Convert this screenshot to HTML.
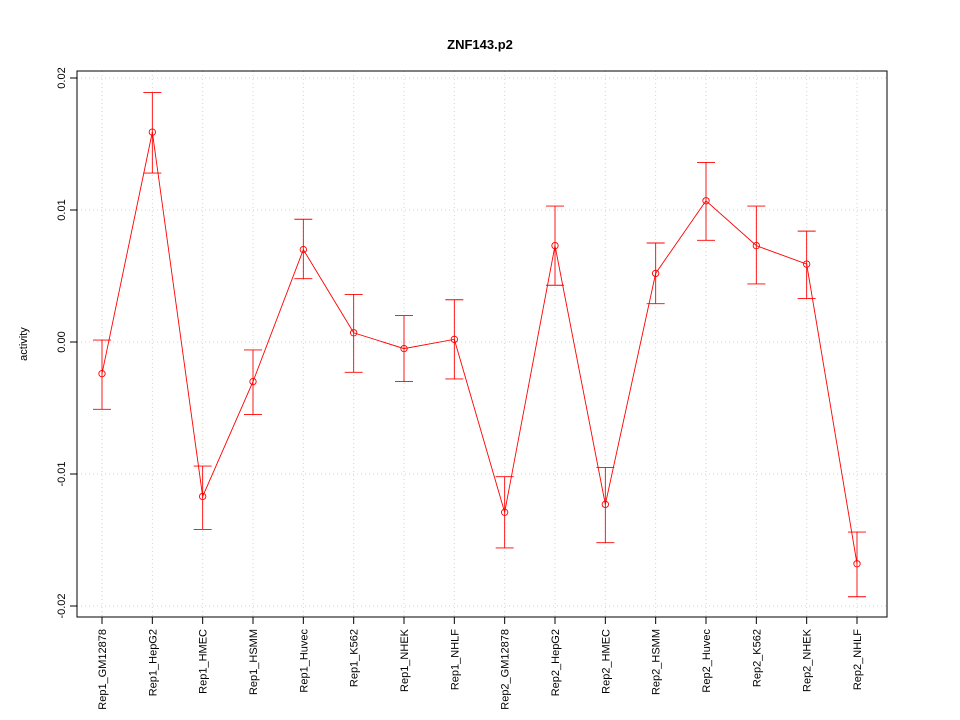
<!DOCTYPE html>
<html><head><meta charset="utf-8"><style>body{margin:0;background:#fff}svg{display:block;font-family:"Liberation Sans",sans-serif}</style></head>
<body>
<svg id="chart" width="960" height="720"></svg>
<script>
const categories=["Rep1_GM12878","Rep1_HepG2","Rep1_HMEC","Rep1_HSMM","Rep1_Huvec","Rep1_K562","Rep1_NHEK","Rep1_NHLF","Rep2_GM12878","Rep2_HepG2","Rep2_HMEC","Rep2_HSMM","Rep2_Huvec","Rep2_K562","Rep2_NHEK","Rep2_NHLF"];
const values=[-0.0024,0.0159,-0.0117,-0.003,0.007,0.0007,-0.0005,0.0002,-0.0129,0.0073,-0.0123,0.0052,0.0107,0.0073,0.0059,-0.0168];
const upper=[0.00015,0.0189,-0.0094,-0.0006,0.0093,0.0036,0.002,0.0032,-0.0102,0.0103,-0.0095,0.0075,0.0136,0.0103,0.0084,-0.0144];
const lower=[-0.0051,0.0128,-0.0142,-0.0055,0.0048,-0.0023,-0.0030,-0.0028,-0.0156,0.0043,-0.0152,0.0029,0.0077,0.0044,0.0033,-0.0193];
const yTicks=[-0.02,-0.01,0,0.01,0.02];
const yTickLabels=["-0.02","-0.01","0.00","0.01","0.02"];
const NS="http://www.w3.org/2000/svg",svg=document.getElementById("chart");
const L=77,R=887,T=71,B=617;
const x=i=>102+i*(857-102)/(categories.length-1);
const y=v=>342-v*13200;
function mk(t,a,p){const e=document.createElementNS(NS,t);for(const k in a)e.setAttribute(k,a[k]);(p||svg).appendChild(e);return e;}
let t=mk("text",{x:480,y:49,"text-anchor":"middle","font-size":13,"font-weight":"bold"});t.textContent="ZNF143.p2";


t=mk("text",{x:27,y:344,"text-anchor":"middle","font-size":11,transform:"rotate(-90 27 344)"});t.textContent="activity";


yTicks.forEach((v,i)=>{
 const g=mk("line",{x1:L,x2:R,y1:y(v),y2:y(v),stroke:"#d3d3d3","stroke-dasharray":"1,3"});
 
 
 mk("line",{x1:L-7,x2:L,y1:y(v),y2:y(v),stroke:"#000"});
 const tx=mk("text",{x:L-12,y:y(v),"text-anchor":"middle","font-size":11,transform:`rotate(-90 ${L-12} ${y(v)})`});tx.textContent=yTickLabels[i];
 
 
});
categories.forEach((c,i)=>{
 const g=mk("line",{x1:x(i),x2:x(i),y1:T,y2:B,stroke:"#d3d3d3","stroke-dasharray":"1,3"});
 
 
 mk("line",{x1:x(i),x2:x(i),y1:B,y2:B+7,stroke:"#000"});
 const tx=mk("text",{x:x(i)+4,y:B+12,"text-anchor":"end","font-size":11,transform:`rotate(-90 ${x(i)+4} ${B+12})`});tx.textContent=c;
 
 
});
const fr=mk("rect",{x:L,y:T,width:R-L,height:B-T,fill:"none",stroke:"#000"});


const pl=mk("polyline",{points:values.map((v,i)=>x(i)+","+y(v)).join(" "),fill:"none",stroke:"#f00","stroke-width":0.9});


values.forEach((v,i)=>{
 const g=mk("g",{stroke:"#f00",fill:"none","stroke-width":0.9});
 
 
 mk("line",{x1:x(i),x2:x(i),y1:y(upper[i]),y2:y(lower[i])},g);
 mk("line",{x1:x(i)-9,x2:x(i)+9,y1:y(upper[i]),y2:y(upper[i])},g);
 mk("line",{x1:x(i)-9,x2:x(i)+9,y1:y(lower[i]),y2:y(lower[i])},g);
 const p=mk("circle",{cx:x(i),cy:y(v),r:3.2},g);
 
 
});
</script>
</body></html>
